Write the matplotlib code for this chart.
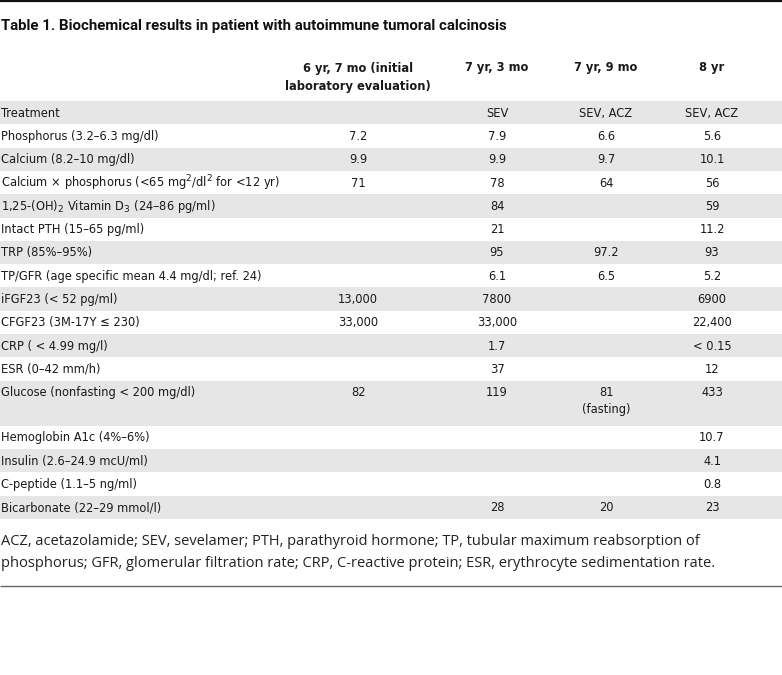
import matplotlib.pyplot as plt
from matplotlib.patches import Rectangle

title = 'Table 1. Biochemical results in patient with autoimmune tumoral calcinosis'

col_headers = ['6 yr, 7 mo (initial\nlaboratory evaluation)', '7 yr, 3 mo', '7 yr, 9 mo', '8 yr']

row_labels = [
    'Treatment',
    'Phosphorus (3.2–6.3 mg/dl)',
    'Calcium (8.2–10 mg/dl)',
    'Calcium × phosphorus (<65 mg$^2$/dl$^2$ for <12 yr)',
    '1,25-(OH)$_2$ Vitamin D$_3$ (24–86 pg/ml)',
    'Intact PTH (15–65 pg/ml)',
    'TRP (85%–95%)',
    'TP/GFR (age specific mean 4.4 mg/dl; ref. 24)',
    'iFGF23 (< 52 pg/ml)',
    'CFGF23 (3M-17Y ≤ 230)',
    'CRP ( < 4.99 mg/l)',
    'ESR (0–42 mm/h)',
    'Glucose (nonfasting < 200 mg/dl)',
    'Hemoglobin A1c (4%–6%)',
    'Insulin (2.6–24.9 mcU/ml)',
    'C-peptide (1.1–5 ng/ml)',
    'Bicarbonate (22–29 mmol/l)',
]

col_6y7m = ['', '7.2', '9.9', '71', '', '', '', '', '13,000', '33,000', '', '', '82', '', '', '', '']
col_7y3m = ['SEV', '7.9', '9.9', '78', '84', '21', '95', '6.1', '7800', '33,000', '1.7', '37', '119', '', '', '', '28']
col_7y9m = ['SEV, ACZ', '6.6', '9.7', '64', '', '', '97.2', '6.5', '', '', '', '', '81\n(fasting)', '', '', '', '20']
col_8y = ['SEV, ACZ', '5.6', '10.1', '56', '59', '11.2', '93', '5.2', '6900', '22,400', '< 0.15', '12', '433', '10.7', '4.1', '0.8', '23']

footnote = ('ACZ, acetazolamide; SEV, sevelamer; PTH, parathyroid hormone; TP, tubular maximum reabsorption of\n'
            'phosphorus; GFR, glomerular filtration rate; CRP, C-reactive protein; ESR, erythrocyte sedimentation rate.')

W, H = 782, 675
fig = plt.figure(figsize=(W / 100, H / 100), dpi=100)
ax = fig.add_axes([0, 0, 1, 1])
ax.set_xlim(0, W)
ax.set_ylim(H, 0)
ax.axis('off')

body = dict(family='DejaVu Sans', fontstretch='condensed', fontsize=9.2, color='#1a1a1a')
col_x = [358, 497, 606, 712]
columns = [col_6y7m, col_7y3m, col_7y9m, col_8y]
shade = '#e6e6e6'

# rules
ax.plot([0, W], [0.8, 0.8], color='#111111', lw=1.6, solid_capstyle='butt')
ax.plot([0, W], [586, 586], color='#666666', lw=1.0, solid_capstyle='butt')

ax.text(1, 26, title, fontsize=10.8, fontweight='bold', family='Roboto',
        va='center', ha='left', color='#111111')

for x, h in zip(col_x, col_headers):
    ax.text(x, 77.5 if '\n' in h else 68, h, ha='center', va='center',
            fontweight='bold', linespacing=1.45, **body)

# body rows
y = 101
row_h = 23.3
for i, lab in enumerate(row_labels):
    h = row_h * 2 - 1.5 if '\n' in col_7y9m[i] else row_h
    if i % 2 == 0:
        ax.add_patch(Rectangle((0, y), W, h, color=shade, lw=0, zorder=0))
    yc = y + row_h / 2 + 0.5
    ax.text(1, yc, lab, ha='left', va='center', **body)
    for x, col in zip(col_x, columns):
        v = col[i]
        if not v:
            continue
        if '\n' in v:
            ax.text(x, yc - 7, v, ha='center', va='top', linespacing=1.4, **body)
        else:
            ax.text(x, yc, v, ha='center', va='center', **body)
    y += h

ax.text(1, 552.5, footnote, ha='left', va='center', family='Open Sans', fontsize=10.55,
        linespacing=1.55, color='#222222')

fig.savefig('out.png', dpi=100)
